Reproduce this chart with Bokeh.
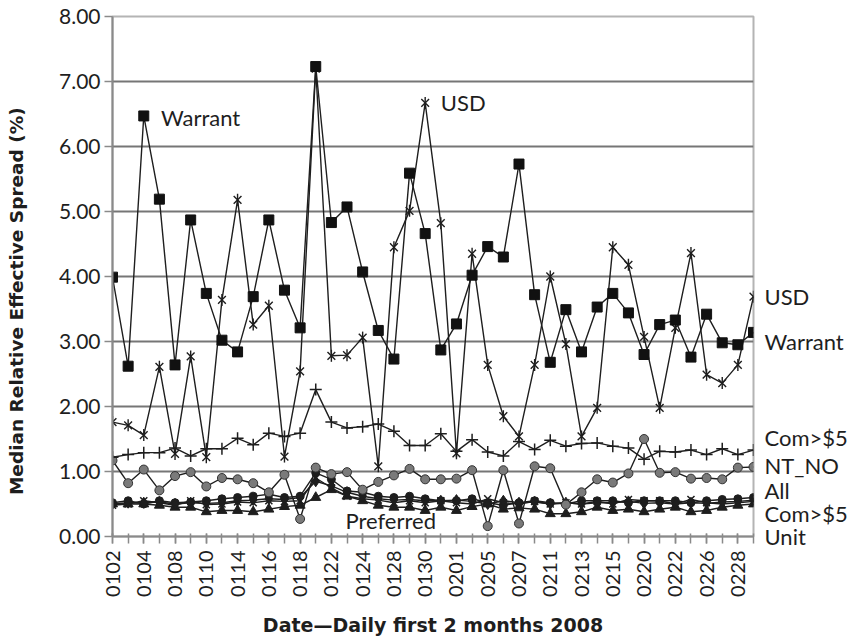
import math
from bokeh.plotting import figure
from bokeh.models import Range1d, FixedTicker, Label, PrintfTickFormatter, LinearAxis
from bokeh.embed import file_html
from bokeh.resources import INLINE

dates = ["0102", "0103", "0104", "0107", "0108", "0109", "0110", "0111", "0114", "0115",
         "0116", "0117", "0118", "0121", "0122", "0123", "0124", "0125", "0128", "0129",
         "0130", "0131", "0201", "0204", "0205", "0206", "0207", "0208", "0211", "0212",
         "0213", "0214", "0215", "0219", "0220", "0221", "0222", "0225", "0226", "0227",
         "0228", "0229"]

warrant = [3.99, 2.62, 6.47, 5.19, 2.64, 4.87, 3.74, 3.02, 2.84, 3.69,
           4.87, 3.79, 3.21, 7.23, 4.83, 5.07, 4.07, 3.17, 2.73, 5.59,
           4.66, 2.87, 3.27, 4.02, 4.46, 4.30, 5.73, 3.72, 2.68, 3.49,
           2.84, 3.53, 3.74, 3.44, 2.80, 3.26, 3.33, 2.76, 3.42, 2.98,
           2.95, 3.14]
usd = [1.76, 1.71, 1.56, 2.61, 1.27, 2.77, 1.22, 3.64, 5.18, 3.26,
       3.55, 1.23, 2.54, 7.20, 2.78, 2.79, 3.06, 1.08, 4.45, 5.01,
       6.67, 4.82, 1.28, 4.35, 2.64, 1.85, 1.54, 2.64, 4.00, 2.96,
       1.54, 1.98, 4.45, 4.18, 3.07, 1.98, 3.21, 4.36, 2.49, 2.36,
       2.64, 3.69]
com_low_price = [1.22, 1.26, 1.29, 1.29, 1.36, 1.24, 1.35, 1.35, 1.51, 1.41,
                 1.59, 1.54, 1.59, 2.26, 1.76, 1.67, 1.69, 1.73, 1.62, 1.40,
                 1.40, 1.58, 1.31, 1.49, 1.30, 1.24, 1.46, 1.34, 1.48, 1.39,
                 1.43, 1.44, 1.39, 1.36, 1.19, 1.31, 1.30, 1.33, 1.26, 1.35,
                 1.26, 1.33]
nt_no = [1.17, 0.82, 1.03, 0.71, 0.93, 0.99, 0.77, 0.90, 0.88, 0.82,
         0.68, 0.95, 0.27, 1.06, 0.96, 0.99, 0.72, 0.84, 0.94, 1.04,
         0.88, 0.88, 0.89, 1.02, 0.16, 1.02, 0.20, 1.08, 1.05, 0.49,
         0.68, 0.88, 0.83, 0.97, 1.50, 0.98, 0.99, 0.89, 0.90, 0.88,
         1.06, 1.07]
all_sec = [0.50, 0.52, 0.52, 0.53, 0.50, 0.52, 0.51, 0.52, 0.55, 0.56,
           0.58, 0.57, 0.60, 0.85, 0.78, 0.68, 0.62, 0.58, 0.56, 0.57,
           0.55, 0.55, 0.56, 0.54, 0.50, 0.55, 0.52, 0.53, 0.50, 0.52,
           0.50, 0.52, 0.52, 0.54, 0.51, 0.52, 0.50, 0.52, 0.51, 0.53,
           0.54, 0.56]
com_high_price = [0.48, 0.50, 0.55, 0.52, 0.48, 0.55, 0.49, 0.50, 0.53, 0.52,
                  0.55, 0.54, 0.55, 0.90, 0.75, 0.62, 0.58, 0.56, 0.52, 0.55,
                  0.52, 0.55, 0.52, 0.50, 0.58, 0.52, 0.50, 0.54, 0.50, 0.52,
                  0.50, 0.54, 0.50, 0.57, 0.55, 0.55, 0.50, 0.57, 0.52, 0.50,
                  0.52, 0.54]
unit = [0.50, 0.50, 0.50, 0.48, 0.45, 0.45, 0.38, 0.40, 0.40, 0.38,
        0.42, 0.46, 0.48, 0.60, 0.72, 0.62, 0.55, 0.48, 0.45, 0.45,
        0.40, 0.45, 0.40, 0.46, 0.50, 0.42, 0.44, 0.42, 0.35, 0.35,
        0.38, 0.45, 0.40, 0.42, 0.38, 0.42, 0.45, 0.38, 0.40, 0.45,
        0.48, 0.50]
preferred = [0.52, 0.55, 0.50, 0.55, 0.52, 0.53, 0.55, 0.58, 0.60, 0.62,
             0.65, 0.60, 0.62, 0.98, 0.88, 0.70, 0.68, 0.62, 0.60, 0.62,
             0.58, 0.55, 0.55, 0.58, 0.52, 0.48, 0.52, 0.55, 0.52, 0.50,
             0.55, 0.55, 0.55, 0.52, 0.55, 0.55, 0.55, 0.52, 0.55, 0.57,
             0.58, 0.60]

y_ticks = [0, 1, 2, 3, 4, 5, 6, 7, 8]

# end-of-line series names (right margin) and their vertical anchor values
end_names = ["USD", "Warrant", "Com>$5", "NT_NO", "All", "Com>$5", "Unit"]
end_name_y = [3.69, 3.00, 1.52, 1.09, 0.71, 0.35, 0.0]

FONT = "Lato"
TITLE_FONT = "DejaVu Sans"
INK = "#1e1e1e"
GRAY_AX = "#8a8a8a"

x = list(range(len(dates)))

p = figure(width=867, height=640, x_range=Range1d(0, len(dates) - 1), y_range=Range1d(0, 8),
           output_backend="svg", toolbar_location=None,
           min_border_left=112, min_border_right=114, min_border_top=16, min_border_bottom=104)
p.background_fill_color = "white"
p.border_fill_color = "white"
p.outline_line_color = "#b4b4b4"
p.outline_line_width = 2

p.xgrid.visible = False
p.ygrid.ticker = FixedTicker(ticks=y_ticks[1:])
p.ygrid.grid_line_color = "#767676"
p.ygrid.grid_line_width = 2

p.yaxis.ticker = FixedTicker(ticks=y_ticks)
p.yaxis.formatter = PrintfTickFormatter(format="%.2f")
p.xaxis.ticker = FixedTicker(ticks=list(range(0, len(dates), 2)), minor_ticks=x)
p.xaxis.major_label_overrides = {i: dates[i] for i in range(0, len(dates), 2)}
p.xaxis.major_label_orientation = math.pi / 2

for ax in (p.xaxis[0], p.yaxis[0]):
    ax.axis_line_color = GRAY_AX
    ax.axis_line_width = 2
    ax.major_tick_line_color = GRAY_AX
    ax.major_tick_line_width = 1.5
    ax.minor_tick_line_color = GRAY_AX
    ax.minor_tick_line_width = 1.5
    ax.major_label_text_font = FONT
    ax.major_label_text_color = INK
p.xaxis.major_label_text_font_size = "20px"
p.yaxis.major_label_text_font_size = "21px"
p.xaxis.major_tick_in = 3
p.xaxis.major_tick_out = 7
p.xaxis.minor_tick_in = 3
p.xaxis.minor_tick_out = 7
p.xaxis.major_label_standoff = 7
p.yaxis.major_tick_in = 0
p.yaxis.major_tick_out = 8
p.yaxis.minor_tick_out = 0
p.yaxis.minor_tick_in = 0
p.yaxis.major_label_standoff = 4

p.xaxis.axis_label = "Date\u2014Daily first 2 months 2008"
p.xaxis.axis_label_text_font = TITLE_FONT
p.xaxis.axis_label_text_font_style = "bold"
p.xaxis.axis_label_text_font_size = "19px"
p.xaxis.axis_label_text_color = INK
p.xaxis.axis_label_standoff = 14

# y title as a single rotated label on an extra left axis (lets it sit off-centre like the original)
title_axis = LinearAxis(ticker=FixedTicker(ticks=[3.62]),
                        major_label_overrides={3.62: "Median Relative Effective Spread (%)"},
                        major_label_orientation="parallel",
                        axis_line_color=None, major_tick_line_color=None, minor_tick_line_color=None,
                        major_label_text_font=TITLE_FONT, major_label_text_font_size="18.5px",
                        major_label_text_font_style="bold", major_label_text_color=INK,
                        major_label_standoff=23)
p.add_layout(title_axis, "left")

# series names at right end
name_axis = LinearAxis(ticker=FixedTicker(ticks=end_name_y),
                       major_label_overrides={v: n for v, n in zip(end_name_y, end_names)},
                       axis_line_color=None, major_tick_line_color=None, minor_tick_line_color=None,
                       major_label_text_font=FONT, major_label_text_font_size="22px",
                       major_label_text_color=INK, major_label_standoff=5)
p.add_layout(name_axis, "right")

LW = 1.4
# bottom cluster
p.line(x, unit, line_color=INK, line_width=LW)
p.scatter(x, unit, marker="triangle", size=10, fill_color=INK, line_color=INK)
p.line(x, com_high_price, line_color=INK, line_width=LW)
p.scatter(x, com_high_price, marker="x", size=10, line_color=INK, line_width=1.5)
p.line(x, preferred, line_color=INK, line_width=LW)
p.scatter(x, preferred, marker="circle", size=8, fill_color=INK, line_color=INK)
p.line(x, all_sec, line_color=INK, line_width=LW)
p.scatter(x, all_sec, marker="diamond", size=11, fill_color=INK, line_color=INK)
# NT_NO
p.line(x, nt_no, line_color=INK, line_width=LW)
p.scatter(x, nt_no, marker="circle", size=9, fill_color="#7a7a7a", line_color="#333333", line_width=1)
# upper common
p.line(x, com_low_price, line_color=INK, line_width=LW)
p.scatter(x, com_low_price, marker="cross", size=12, line_color=INK, line_width=1.5)
# USD (x with a vertical bar)
p.line(x, usd, line_color=INK, line_width=LW)
p.scatter(x, usd, marker="x", size=11, line_color=INK, line_width=1.4)
p.scatter(x, usd, marker="dash", size=12, angle=math.pi / 2, line_color=INK, line_width=1.4)
# Warrant
p.line(x, warrant, line_color=INK, line_width=LW)
p.scatter(x, warrant, marker="square", size=10, fill_color="#111111", line_color="#111111")


def add_label(text, xv, yv):
    p.add_layout(Label(x=xv, y=yv, text=text, text_font=FONT, text_font_size="22px",
                       text_color=INK, text_baseline="middle"))


add_label("Warrant", 3.1, 6.44)
add_label("USD", 21.0, 6.67)
add_label("Preferred", 14.9, 0.25)

open("out.html", "w").write(file_html(p, INLINE))
